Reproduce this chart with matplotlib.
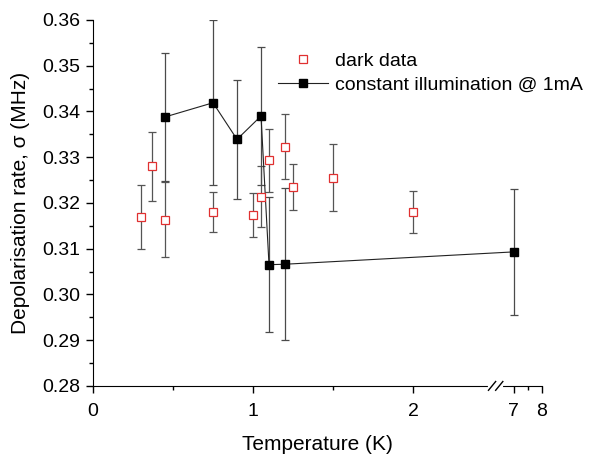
import numpy as np
import matplotlib
matplotlib.use("Agg")
import matplotlib.pyplot as plt

plt.rcParams['font.family'] = ['Liberation Sans', 'DejaVu Sans']

# dark data
dark_T = [0.30, 0.37, 0.45, 0.75, 1.00, 1.05, 1.10, 1.20, 1.25, 1.50, 2.00]
dark_sigma = [0.3169, 0.3280, 0.3163, 0.3180, 0.3174, 0.3214, 0.3293, 0.3323, 0.3235, 0.3255, 0.3180]
dark_err = [0.0070, 0.0076, 0.0082, 0.0043, 0.0048, 0.0066, 0.0069, 0.0071, 0.0050, 0.0073, 0.0046]

# constant illumination @ 1mA
light_T = [0.45, 0.75, 0.90, 1.05, 1.10, 1.20, 7.00]
light_sigma = [0.3388, 0.3419, 0.3339, 0.3390, 0.3065, 0.3066, 0.3093]
light_err = [0.0140, 0.0180, 0.0130, 0.0150, 0.0148, 0.0166, 0.0137]

x_ticks = [0, 1, 2, 7, 8]
x_minor = [0.5, 1.5, 7.5]
y_ticks = [0.28, 0.29, 0.30, 0.31, 0.32, 0.33, 0.34, 0.35, 0.36]

A, B, S = 2.5, 2.631, 0.175

def fwd(x):
    x = np.asarray(x, float)
    return np.where(x <= A, x, np.where(x >= 7, B + (x - 7) * S, A + (x - A) * (B - A) / 4.5))

def inv(y):
    y = np.asarray(y, float)
    return np.where(y <= A, y, np.where(y >= B, 7 + (y - B) / S, A + (y - A) * 4.5 / (B - A)))

fig = plt.figure(figsize=(5.89, 4.54), dpi=100)
ax = fig.add_axes([0.158, 0.150, 0.762, 0.806])
ax.set_xscale('function', functions=(fwd, inv))

ax.errorbar(dark_T, dark_sigma, yerr=dark_err, fmt='none', ecolor='#555555',
            elinewidth=0.9, capsize=3, capthick=0.9, zorder=2)
ax.errorbar(light_T, light_sigma, yerr=light_err, fmt='none', ecolor='#4a4a4a',
            elinewidth=0.9, capsize=3, capthick=0.9, zorder=2)
ax.plot(dark_T, dark_sigma, linestyle='none', marker='s', markersize=6,
        markerfacecolor='white', markeredgecolor='#e03030', markeredgewidth=0.9,
        label='dark data', zorder=4)
ax.plot(light_T, light_sigma, color='#222222', linewidth=0.8, marker='s', markersize=6,
        markerfacecolor='black', markeredgecolor='black',
        label='constant illumination @ 1mA', zorder=3)

ax.set_xlim(0, 8)
ax.set_ylim(0.28, 0.36)
ax.set_xticks(x_ticks)
ax.set_xticklabels([str(t) for t in x_ticks])
ax.set_xticks(x_minor, minor=True)
ax.set_yticks(y_ticks)
ax.set_yticklabels(['%.2f' % t for t in y_ticks])
ax.set_yticks(np.arange(0.285, 0.36, 0.01), minor=True)

for s in ['top', 'right']:
    ax.spines[s].set_visible(False)
ax.tick_params(axis='both', which='major', direction='out', length=5, width=1,
               labelsize=14, pad=4)
ax.tick_params(axis='x', which='major', pad=7)
ax.tick_params(axis='both', which='minor', direction='out', length=3, width=1)

ax.set_xlabel('Temperature (K)', fontsize=15, labelpad=11)
ax.set_ylabel('Depolarisation rate, σ (MHz)', fontsize=15, labelpad=9)

# axis break marks
bx = 0.897
ax.plot([bx - 0.012, bx + 0.012], [0, 0], transform=ax.transAxes, color='white',
        linewidth=3, clip_on=False, zorder=5)
for dx in (-0.008, 0.008):
    ax.plot([bx + dx - 0.008, bx + dx + 0.008], [-0.012, 0.012], transform=ax.transAxes,
            color='black', linewidth=1, clip_on=False, zorder=6)

ax.legend(loc='upper left', bbox_to_anchor=(0.394, 0.933), frameon=False, fontsize=14,
          handlelength=2.58, handletextpad=0.36, labelspacing=0.3, borderaxespad=0)

fig.savefig('out.png', dpi=100)
